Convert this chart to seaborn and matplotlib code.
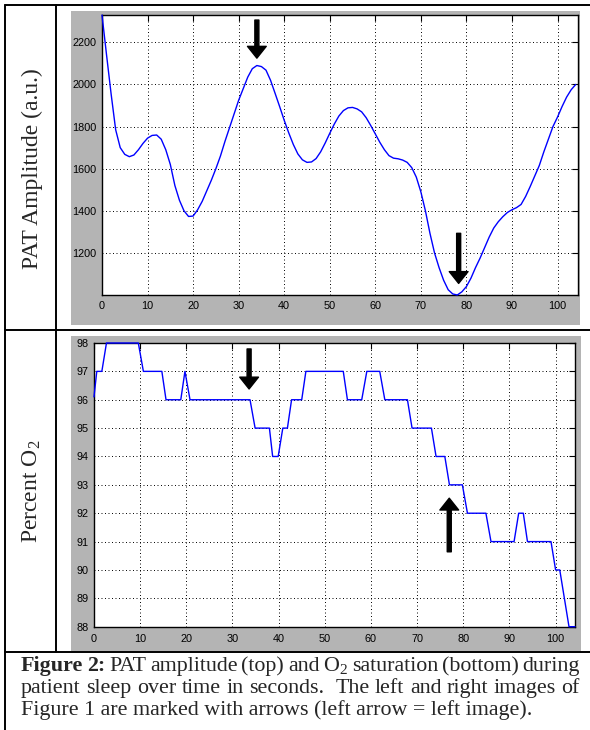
import matplotlib
matplotlib.use("Agg")
import matplotlib.pyplot as plt
import seaborn as sns
from matplotlib.patches import Rectangle
from matplotlib.lines import Line2D

# ---------------- data ----------------
pat_time = list(range(0, 105))
pat_amp = [2330, 2140, 1955, 1785, 1700, 1668, 1657, 1665, 1690, 1720,
           1745, 1758, 1760, 1740, 1690, 1620, 1520, 1450, 1400, 1373,
           1375, 1405, 1445, 1495, 1545, 1600, 1660, 1730, 1795, 1860,
           1925, 1980, 2035, 2075, 2090, 2085, 2068, 2020, 1958, 1895,
           1830, 1770, 1715, 1670, 1642, 1630, 1632, 1648, 1680, 1722,
           1768, 1812, 1850, 1876, 1889, 1891, 1884, 1870, 1842, 1805,
           1765, 1725, 1690, 1662, 1650, 1647, 1641, 1630, 1605, 1560,
           1490, 1400, 1293, 1200, 1130, 1070, 1025, 1005, 1000, 1015,
           1040, 1080, 1130, 1175, 1225, 1275, 1318, 1348, 1372, 1392,
           1405, 1415, 1430, 1468, 1515, 1565, 1615, 1680, 1740, 1800,
           1845, 1895, 1940, 1975, 2000]

o2_time = [0, 0.6, 1.7, 2.7, 9.6, 10.7, 14.7, 15.6, 18.8, 19.7, 20.8,
           33.8, 34.9, 38.0, 38.7, 39.9, 40.9, 41.9, 42.8, 45.0, 45.9,
           54.0, 54.9, 58.0, 59.1, 61.9, 63.0, 67.9, 68.9, 73.1, 74.1,
           76.0, 77.0, 79.8, 80.9, 84.9, 86.0, 91.0, 92.0, 93.0, 93.9,
           99.0, 100.0, 100.9, 102.9, 104.2]
o2_pct = [96.1, 97, 97, 98, 98, 97, 97, 96, 96, 97, 96,
          96, 95, 95, 94, 94, 95, 95, 96, 96, 97,
          97, 96, 96, 97, 97, 96, 96, 95, 95, 94,
          94, 93, 93, 92, 92, 91, 91, 92, 92, 91,
          91, 90, 90, 88, 88]

x_ticks = [0, 10, 20, 30, 40, 50, 60, 70, 80, 90, 100]
pat_yticks = [1200, 1400, 1600, 1800, 2000, 2200]
o2_yticks = [88, 89, 90, 91, 92, 93, 94, 95, 96, 97, 98]

# arrows: (x, tail_y, tip_y)
pat_arrows = [(34.0, 2306, 2125), (78.3, 1293, 1055)]
o2_arrows = [(33.6, 97.79, 96.38), (76.96, 90.64, 92.53)]

ylabel_top = "PAT Amplitude (a.u.)"
ylabel_bottom = "Percent O$_2$"

# ---------------- style ----------------
sns.set_style("white")
plt.rcParams['font.family'] = ['Liberation Sans', 'DejaVu Sans']
plt.rcParams['mathtext.fontset'] = 'custom'
plt.rcParams['mathtext.rm'] = 'Liberation Serif'
plt.rcParams['mathtext.it'] = 'Liberation Serif:italic'
plt.rcParams['mathtext.bf'] = 'Liberation Serif:bold'

W, H = 590, 730
fig = plt.figure(figsize=(W / 100, H / 100), dpi=100)
fig.patch.set_facecolor('white')


def rect_px(x0, y0, x1, y1):
    return [x0 / W, 1 - y1 / H, (x1 - x0) / W, (y1 - y0) / H]


GRAY = '#b4b4b4'
for (x0, y0, x1, y1) in [(71, 11, 580, 325), (71, 336, 581, 651)]:
    r = rect_px(x0, y0, x1, y1)
    fig.add_artist(Rectangle((r[0], r[1]), r[2], r[3], transform=fig.transFigure,
                             facecolor=GRAY, edgecolor='none', zorder=0))

# table lines
def hline(y, x0=5, x1=590):
    fig.add_artist(Line2D([x0 / W, x1 / W], [1 - y / H, 1 - y / H], color='black',
                          lw=1.4, transform=fig.transFigure, zorder=5))


def vline(x, y0, y1):
    fig.add_artist(Line2D([x / W, x / W], [1 - y0 / H, 1 - y1 / H], color='black',
                          lw=1.4, transform=fig.transFigure, zorder=5))

hline(5)
hline(330)
hline(652)
vline(5, 5, 730)
vline(56, 5, 652)


def style_ax(ax, xlim, ylim, yticks):
    ax.set_xlim(*xlim)
    ax.set_ylim(*ylim)
    ax.set_xticks(x_ticks)
    ax.set_yticks(yticks)
    ax.set_facecolor('white')
    ax.grid(True, color='black', linestyle=(0, (1, 2.6)), linewidth=0.7)
    ax.tick_params(direction='in', length=4, width=0.8, top=True, right=True,
                   labelsize=7.8, pad=4, colors='black')
    for s in ax.spines.values():
        s.set_color('black')
        s.set_linewidth(1.0)
        s.set_visible(True)
    ax.set_xlabel('')
    ax.set_ylabel('')
    for ln in ax.get_lines():
        if ln.get_color() == '#0000ff':
            ln.set_clip_on(False)
            ln.set_zorder(3)


ax1 = fig.add_axes(rect_px(102, 15, 578, 295))
sns.lineplot(x=pat_time, y=pat_amp, ax=ax1, color='#0000ff', lw=1.0, estimator=None)
style_ax(ax1, (0, 104.5), (1000, 2330), pat_yticks)

ax2 = fig.add_axes(rect_px(94, 343, 575, 626.7))
sns.lineplot(x=o2_time, y=o2_pct, ax=ax2, color='#0000ff', lw=1.0, estimator=None)
style_ax(ax2, (0, 104.2), (88, 98), o2_yticks)
ax2.tick_params(axis='x', pad=5)

for ax, arrows in [(ax1, pat_arrows), (ax2, o2_arrows)]:
    for (x, ty, hy) in arrows:
        ax.annotate('', xy=(x, hy), xytext=(x, ty),
                    arrowprops=dict(facecolor='black', edgecolor='black', width=2.9,
                                    headwidth=13.5, headlength=8.5, shrink=0),
                    zorder=6)

fig.text(32 / W, 1 - 169 / H, ylabel_top, rotation=90, ha='center', va='center',
         fontsize=17, family='Liberation Serif')
fig.text(32 / W, 1 - 491 / H, ylabel_bottom, rotation=90, ha='center', va='center',
         fontsize=17, family='Liberation Serif')

# ---------------- caption ----------------
CAP_FS = 15.8
renderer = fig.canvas.get_renderer()


def word_width(s, weight):
    t = fig.text(0, 0, s, fontsize=CAP_FS, family='Liberation Serif', fontweight=weight)
    w = t.get_window_extent(renderer).width
    t.remove()
    return w


def justified(words, y, x0=21, x1=580):
    widths = [word_width(w, wt) for (w, wt, g) in words]
    weights = [g for (w, wt, g) in words[:-1]]
    gap = (x1 - x0 - sum(widths)) / sum(weights)
    x = x0
    for (w, wt, g), wd in zip(words, widths):
        fig.text(x / W, 1 - y / H, w, fontsize=CAP_FS, family='Liberation Serif',
                 fontweight=wt, ha='left', va='baseline')
        x += wd + gap * g

N, B = 'normal', 'bold'
line1 = [("Figure", B, 1), ("2:", B, 1), ("PAT", N, 1), ("amplitude", N, 1), ("(top)", N, 1),
         ("and", N, 1), ("O$_2$", N, 1), ("saturation", N, 1), ("(bottom)", N, 1), ("during", N, 1)]
line2 = [("patient", N, 1), ("sleep", N, 1), ("over", N, 1), ("time", N, 1), ("in", N, 1),
         ("seconds.", N, 2), ("The", N, 1), ("left", N, 1), ("and", N, 1), ("right", N, 1),
         ("images", N, 1), ("of", N, 1)]
justified(line1, 671)
justified(line2, 693)
fig.text(21 / W, 1 - 715 / H, "Figure 1 are marked with arrows (left arrow = left image).",
         fontsize=CAP_FS, family='Liberation Serif', ha='left', va='baseline')

fig.savefig('out.png', dpi=100, facecolor='white')
